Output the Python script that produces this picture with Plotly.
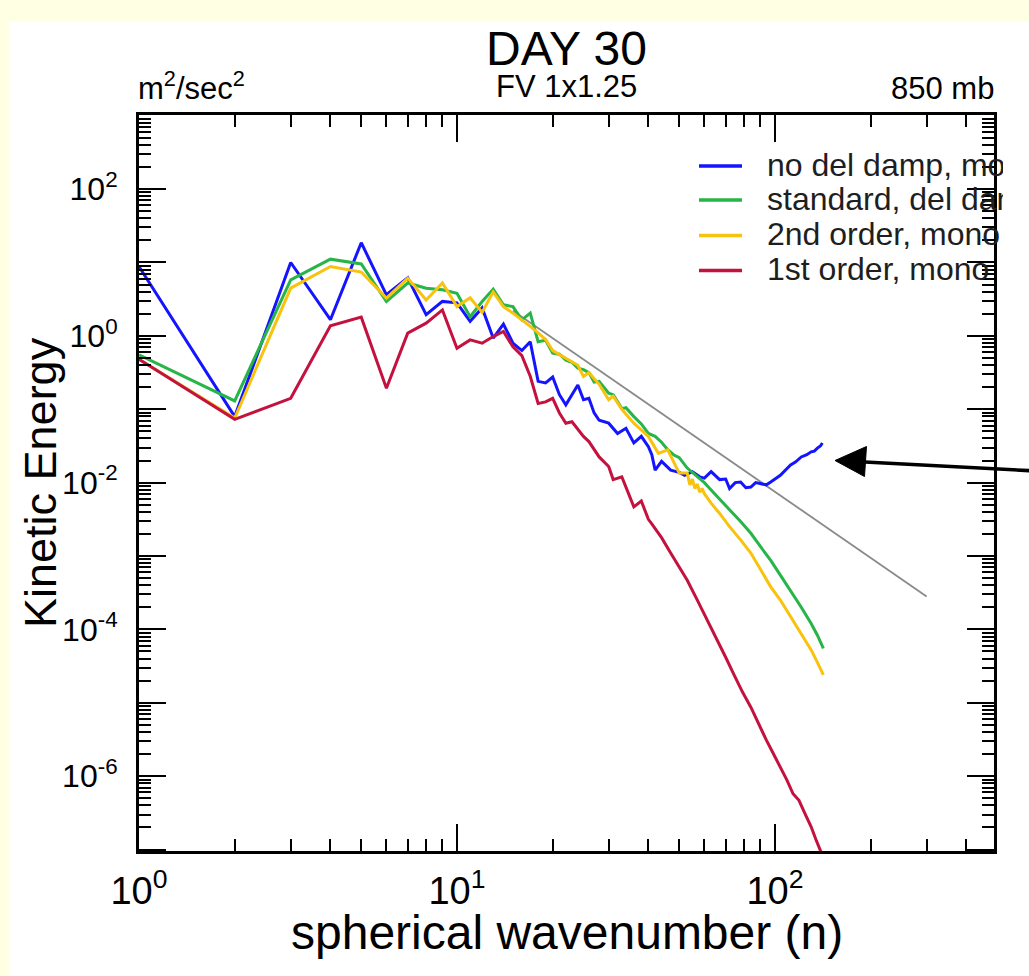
import plotly.graph_objects as go

W, H = 1029, 976
ML, MR, MT, MB = 139, 26, 115, 125
AX_RIGHT = 994
FONT = "Liberation Sans, Arial, sans-serif"

# ---------------- data ----------------
n_blue = [1, 2, 3, 4, 5, 6, 7, 8, 9, 10, 11, 12, 13, 14, 15, 16, 17, 18, 19, 20, 21, 22,
          24, 25, 26, 27, 28, 30, 32, 34, 36, 38, 40, 41, 42, 44, 47, 50, 52, 55, 58, 60,
          63, 67, 70, 72, 75, 78, 81, 84, 87, 90, 94, 97, 104, 112, 116, 121, 126, 130,
          133, 136, 139, 141]
E_blue = [8.81, 0.0794, 10.0, 1.66, 18.6, 3.63, 6.17, 1.95, 2.95, 2.82,
          1.58, 2.40, 0.933, 1.45, 0.794, 0.631, 0.832, 0.240, 0.229, 0.275,
          0.158, 0.115, 0.214, 0.135, 0.141, 0.0891, 0.0708,
          0.0646, 0.0468, 0.0550, 0.0347, 0.0427, 0.0309, 0.0240, 0.0148, 0.0195, 0.0148,
          0.0138, 0.0126, 0.0141, 0.0120, 0.0115, 0.0141, 0.0110, 0.0112, 0.00832, 0.0100,
          0.0102, 0.00851, 0.00871, 0.0100, 0.00977, 0.00933, 0.0102, 0.0126, 0.0174, 0.0191,
          0.0224, 0.0240, 0.0263, 0.0269, 0.0295, 0.0316, 0.0347]

n_green = [1, 2, 3, 4, 5, 6, 7, 8, 9, 10, 11, 12, 13, 14, 15, 16, 17, 18, 19, 20, 21, 22,
           23, 24, 25, 26, 27, 28, 30, 31, 33, 34, 36, 38, 40, 42, 44, 46, 48, 50, 53, 57,
           60, 63, 67, 72, 78, 84, 90, 97, 104, 112, 121, 130, 136, 142]
E_green = [0.550, 0.130, 5.81, 11.1, 9.55, 2.94, 5.25, 4.47, 4.24, 3.80,
           1.82, 2.94, 4.34, 2.65, 2.51, 1.65, 2.04, 0.832, 0.871, 0.581,
           0.562, 0.468, 0.437, 0.363, 0.347, 0.316, 0.234, 0.240,
           0.166, 0.158, 0.102, 0.105, 0.0794, 0.0631, 0.0468, 0.0427, 0.0355, 0.0282,
           0.0240, 0.0219, 0.0158, 0.0120, 0.0100, 0.00794, 0.00603, 0.00427, 0.00295, 0.00204,
           0.00135, 8.71e-4, 5.50e-4, 3.39e-4, 2.00e-4, 1.20e-4, 8.32e-5, 5.50e-5]

n_yellow = [1, 2, 3, 4, 5, 6, 7, 8, 9, 10, 11, 12, 13, 14, 15, 16, 17, 18, 19, 20,
            22, 24, 25, 26, 28, 30, 31, 33, 36, 38, 40, 43, 46, 50, 53, 54, 55, 56, 57, 58,
            59, 60, 63, 67, 72, 78, 84, 90, 97, 104, 112, 121, 130, 136, 142]
E_yellow = [0.481, 0.0759, 4.47, 8.81, 7.41, 3.27, 6.12, 3.09, 5.25, 2.51,
            3.31, 2.09, 3.98, 2.51, 2.04, 1.66, 1.35, 1.10, 0.891, 0.631,
            0.501, 0.398, 0.279, 0.316, 0.219, 0.135, 0.151, 0.100, 0.0646, 0.0525,
            0.0427, 0.0251, 0.0279, 0.0135, 0.0135, 0.00933, 0.0112, 0.00832, 0.00955, 0.00741,
            0.00832, 0.00708, 0.00525, 0.00380, 0.00251, 0.00166, 0.00110, 6.61e-4, 3.80e-4, 2.51e-4,
            1.48e-4, 8.91e-5, 5.25e-5, 3.55e-5, 2.40e-5]

n_red = [1, 2, 3, 4, 5, 6, 7, 8, 9, 10, 11, 12, 13, 14, 15, 16, 17, 18, 19, 20, 21, 22, 23,
         25, 26, 28, 30, 31, 33, 35, 36, 38, 40, 41, 44, 47, 50, 53, 57, 61, 65, 70, 74,
         79, 84, 89, 94, 99, 104, 109, 114, 119, 124, 130, 135, 138, 141]
E_red = [0.481, 0.0729, 0.141, 1.37, 1.80, 0.193, 1.09, 1.49, 2.26, 0.679,
         0.881, 0.794, 0.979, 1.15, 0.708, 0.537, 0.282, 0.120, 0.126, 0.141,
         0.0891, 0.0646, 0.0676,
         0.0427, 0.0363, 0.0224, 0.0166, 0.0110, 0.0120, 0.00631, 0.00468, 0.00562, 0.00316,
         0.00275, 0.00178, 0.00110, 7.08e-4, 4.68e-4, 2.51e-4, 1.41e-4, 7.94e-5, 4.17e-5, 2.51e-5,
         1.41e-5, 8.71e-6, 5.01e-6, 3.09e-6, 2.00e-6, 1.32e-6, 8.91e-7, 5.75e-7, 4.68e-7, 3.16e-7,
         2.04e-7, 1.32e-7, 1.07e-7, 8.32e-8]

ref_n = [15, 300]
ref_E = [2.2, 2.8e-4]

series_labels = ["no del damp, mono 2nd order", "standard, del damp",
                 "2nd order, mono", "1st order, mono"]
series_colors = ["#1414FF", "#27B548", "#F9C20C", "#C4123F"]

x_tick_vals = [1, 10, 100]
x_tick_text = ["10<sup>0</sup>", "10<sup>1</sup>", "10<sup>2</sup>"]
y_tick_vals = [1e-7, 1e-6, 1e-5, 1e-4, 1e-3, 1e-2, 1e-1, 1e0, 1e1, 1e2, 1e3]
y_tick_text = [" ", "10<sup>-6</sup>", " ", "10<sup>-4</sup>", " ", "10<sup>-2</sup>", " ",
               "10<sup>0</sup>", " ", "10<sup>2</sup>", " "]

x_minor = [m * d for d in (1, 10, 100) for m in range(2, 10) if m * d < 500]
y_minor = [m * d for d in (1e-7, 1e-6, 1e-5, 1e-4, 1e-3, 1e-2, 1e-1, 1, 10, 100) for m in range(2, 10)]


def px(x):
    return (x - ML) / (W - ML - MR)


def py(y):
    return (H - MB - y) / (H - MT - MB)


fig = go.Figure()

fig.add_trace(go.Scatter(x=ref_n, y=ref_E, mode="lines",
                         line=dict(color="#8a8a8a", width=1.8),
                         showlegend=False, hoverinfo="skip"))

for n, E, lab, col in zip([n_blue, n_green, n_yellow, n_red],
                          [E_blue, E_green, E_yellow, E_red],
                          series_labels, series_colors):
    fig.add_trace(go.Scatter(x=n, y=E, mode="lines", name=lab,
                             line=dict(color=col, width=3), showlegend=False))

# legend drawn inside a pixel-unit overlay subplot (so text is clipped at its edge)
legend_rows = [166, 200, 235.5, 270.5]
for lab, col, yrow in zip(series_labels, series_colors, legend_rows):
    fig.add_trace(go.Scatter(x=[699, 742], y=[yrow, yrow], mode="lines",
                             line=dict(color=col, width=3.5), xaxis="x2", yaxis="y2",
                             showlegend=False, hoverinfo="skip"))
    fig.add_trace(go.Scatter(x=[767], y=[yrow + 1.5], mode="text", text=[lab],
                             textposition="middle right",
                             textfont=dict(size=32, color="#1e1e1e", family=FONT),
                             xaxis="x2", yaxis="y2", cliponaxis=True,
                             showlegend=False, hoverinfo="skip"))

axis_common = dict(type="log", showline=True, linecolor="black", linewidth=3,
                   mirror="allticks", ticks="inside", ticklen=27, tickwidth=2,
                   tickcolor="black", showgrid=False, zeroline=False)

fig.update_layout(
    width=W, height=H,
    margin=dict(l=ML, r=MR, t=MT, b=MB),
    paper_bgcolor="#FFFFE3",
    plot_bgcolor="rgba(0,0,0,0)",
    showlegend=False,
    font=dict(family=FONT, color="black"),
    xaxis=dict(**axis_common, range=[0, 2.689],
               domain=[0, (AX_RIGHT - ML) / (W - ML - MR)], anchor="y",
               tickvals=x_tick_vals, ticktext=x_tick_text,
               tickfont=dict(size=38, family=FONT, color="black"),
               ticklabelstandoff=4,
               minor=dict(tickvals=x_minor, ticks="inside", ticklen=12,
                          tickwidth=1.5, tickcolor="black", showgrid=False)),
    yaxis=dict(**axis_common, range=[-7.02, 3.01], domain=[0, 1], anchor="x",
               tickvals=y_tick_vals, ticktext=y_tick_text,
               tickfont=dict(size=32, family=FONT, color="black"),
               ticklabelstandoff=12,
               minor=dict(tickvals=y_minor, ticks="inside", ticklen=12,
                          tickwidth=1.5, tickcolor="black", showgrid=False)),
    xaxis2=dict(domain=[0, 1], range=[ML, W - MR], visible=False, anchor="y2",
                fixedrange=True),
    yaxis2=dict(domain=[0, 1], range=[H - MB, MT], visible=False, anchor="x2",
                fixedrange=True),
)

annotations = [
    dict(text="DAY 30", x=px(566.5), y=py(48.5), font=dict(size=48)),
    dict(text="FV 1x1.25", x=px(566), y=py(86), font=dict(size=31)),
    dict(text="m<sup>2</sup>/sec<sup>2</sup>", x=px(136), y=py(86), xanchor="left",
         font=dict(size=31)),
    dict(text="850 mb", x=px(996), y=py(88), xanchor="right", font=dict(size=31)),
    dict(text="spherical wavenumber (n)", x=px(567), y=py(933), font=dict(size=48)),
    dict(text="Kinetic Energy", x=px(40), y=py(483), textangle=-90, font=dict(size=45)),
]
for a in annotations:
    a.setdefault("xanchor", "center")
    a.setdefault("yanchor", "middle")
    a["xref"] = "paper"
    a["yref"] = "paper"
    a["showarrow"] = False
    a["font"] = dict(family=FONT, color="black", **a["font"])
fig.update_layout(annotations=annotations)

shapes = [
    # white slide panel on the pale-yellow page
    dict(type="rect", xref="paper", yref="paper", x0=px(9), x1=px(1040), y0=py(22), y1=py(990),
         fillcolor="white", line=dict(width=0), layer="below"),
    # arrow shaft
    dict(type="line", xref="paper", yref="paper", x0=px(860), y0=py(461.8), x1=px(1040),
         y1=py(471.2), line=dict(color="black", width=3.5), layer="above"),
    # arrow head
    dict(type="path", xref="paper", yref="paper",
         path="M {:.5f} {:.5f} L {:.5f} {:.5f} L {:.5f} {:.5f} Z".format(
             px(835), py(460.5), px(866.5), py(446.5), px(864.5), py(476.5)),
         fillcolor="black", line=dict(color="black", width=1), layer="above"),
]
fig.update_layout(shapes=shapes)

fig.write_html("out.html", config={"displayModeBar": False},
               post_script="document.body.style.margin='0px';document.body.style.overflow='hidden';")
